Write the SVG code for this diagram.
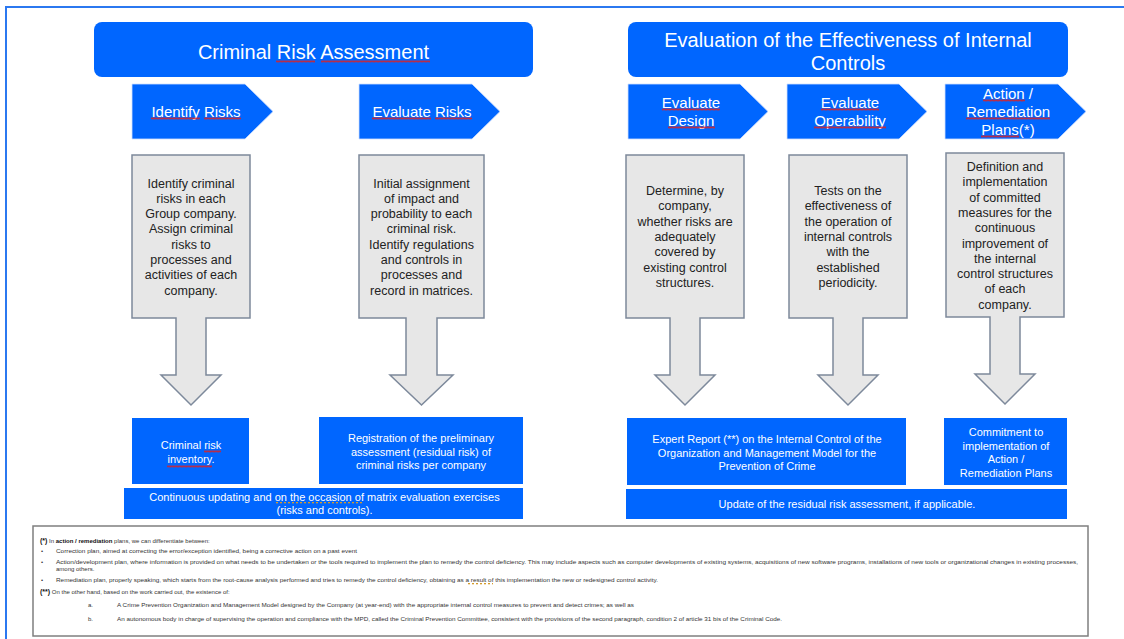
<svg xmlns="http://www.w3.org/2000/svg" width="1124" height="639" viewBox="0 0 1124 639">
  <defs>
    <!-- spell-check style wavy underline (tiles start on multiples of 3 px) -->
    <pattern id="wavy" width="4" height="3" patternUnits="userSpaceOnUse">
      <path d="M0,2.5 L1,0.5 L2,2.5 L3,0.5 L4,2.5" fill="none" stroke="#e02020" stroke-width="0.8"/>
    </pattern>
    <pattern id="dots" width="4" height="3" patternUnits="userSpaceOnUse">
      <rect x="0" y="1" width="2" height="1.3" fill="#d49a2a"/>
    </pattern>
  </defs>
  <style>
    .blue { fill: #0066ff; }
    .chev { fill: #0066ff; stroke: #cfe0ff; stroke-width: 0.8; }
    .callout { fill: #e7e7e7; stroke: #7d899b; stroke-width: 1.5; }
    .wt { font-family: "Liberation Sans", Arial, sans-serif; fill: #ffffff; text-anchor: middle; }
    .h { font-size: 20px; }
    .c { font-size: 15px; }
    .s { font-size: 11px; }
    .gt { font-family: "Liberation Sans", Arial, sans-serif; font-size: 12.5px; fill: #222222; text-anchor: middle; }
    .fn { font-family: "Liberation Sans", Arial, sans-serif; font-size: 6px; fill: #333333; }
    .b { font-weight: bold; fill: #111111; }
  </style>

  <rect width="1124" height="639" fill="#ffffff"/>
  <!-- page frame -->
  <path d="M6,639 V7 H1124" fill="none" stroke="#2b78f0" stroke-width="2"/>

  <!-- section headers -->
  <g id="hdr-risk-assessment">
    <rect class="blue" x="94" y="22" width="439" height="55" rx="8"/>
    <text class="wt h" x="313.5" y="59">Criminal Risk Assessment</text>
    <rect x="276" y="60" width="39" height="3" fill="url(#wavy)"/>
    <rect x="321" y="60" width="109" height="3" fill="url(#wavy)"/>
  </g>
  <g id="hdr-effectiveness">
    <rect class="blue" x="628" y="22" width="440" height="55" rx="8"/>
    <text class="wt h" x="848" y="47">Evaluation of the Effectiveness of Internal</text>
    <text class="wt h" x="848" y="70">Controls</text>
  </g>

  <!-- process steps -->
  <g id="step-identify">
    <path class="chev" d="M132,84 H245 L273,111.5 L245,139 H132 Z"/>
    <text class="wt c" x="196" y="117">Identify Risks</text>
    <rect x="151" y="117" width="49" height="3" fill="url(#wavy)"/>
    <rect x="204" y="117" width="37" height="3" fill="url(#wavy)"/>
  </g>
  <g id="step-evaluate">
    <path class="chev" d="M359,84 H472 L500,111.5 L472,139 H359 Z"/>
    <text class="wt c" x="422" y="117">Evaluate Risks</text>
    <rect x="372" y="117" width="59" height="3" fill="url(#wavy)"/>
    <rect x="435" y="117" width="37" height="3" fill="url(#wavy)"/>
  </g>
  <g id="step-design">
    <path class="chev" d="M628,84 H740 L768,111.5 L740,139 H628 Z"/>
    <text class="wt c" x="691" y="108">Evaluate</text>
    <text class="wt c" x="691" y="126">Design</text>
    <rect x="662" y="108" width="58" height="3" fill="url(#wavy)"/>
    <rect x="668" y="126" width="47" height="3" fill="url(#wavy)"/>
  </g>
  <g id="step-operability">
    <path class="chev" d="M787,84 H899 L927,111.5 L899,139 H787 Z"/>
    <text class="wt c" x="850" y="108">Evaluate</text>
    <text class="wt c" x="850" y="126">Operability</text>
    <rect x="821" y="108" width="58" height="3" fill="url(#wavy)"/>
    <rect x="814" y="126" width="72" height="3" fill="url(#wavy)"/>
  </g>
  <g id="step-action">
    <path class="chev" d="M945,84 H1058 L1086,111.5 L1058,139 H945 Z"/>
    <text class="wt c" x="1008" y="99">Action /</text>
    <text class="wt c" x="1008" y="117">Remediation</text>
    <text class="wt c" x="1008" y="135">Plans(*)</text>
    <rect x="983" y="99" width="42" height="3" fill="url(#wavy)"/>
    <rect x="966" y="117" width="84" height="3" fill="url(#wavy)"/>
    <rect x="981" y="135" width="38" height="3" fill="url(#wavy)"/>
  </g>

  <!-- activity callouts -->
  <g id="act-identify">
    <path class="callout" d="M132,155 H250 V318 H206 V375 H221 L191,405 L161,375 H176 V318 H132 Z"/>
    <text class="gt" x="191" y="187.5">Identify criminal</text>
    <text class="gt" x="191" y="202.8">risks in each</text>
    <text class="gt" x="191" y="218.1">Group company.</text>
    <text class="gt" x="191" y="233.4">Assign criminal</text>
    <text class="gt" x="191" y="248.7">risks to</text>
    <text class="gt" x="191" y="264">processes and</text>
    <text class="gt" x="191" y="279.3">activities of each</text>
    <text class="gt" x="191" y="294.6">company.</text>
  </g>
  <g id="act-evaluate">
    <path class="callout" d="M359,155 H484 V318 H437 V375 H453 L421.5,405 L390,375 H406 V318 H359 Z"/>
    <text class="gt" x="421.5" y="187.5">Initial assignment</text>
    <text class="gt" x="421.5" y="202.8">of impact and</text>
    <text class="gt" x="421.5" y="218.1">probability to each</text>
    <text class="gt" x="421.5" y="233.4">criminal risk.</text>
    <text class="gt" x="421.5" y="248.7">Identify regulations</text>
    <text class="gt" x="421.5" y="264">and controls in</text>
    <text class="gt" x="421.5" y="279.3">processes and</text>
    <text class="gt" x="421.5" y="294.6">record in matrices.</text>
  </g>
  <g id="act-design">
    <path class="callout" d="M626,155 H744 V318 H700 V375 H715 L685,405 L655,375 H670 V318 H626 Z"/>
    <text class="gt" x="685" y="195">Determine, by</text>
    <text class="gt" x="685" y="210.3">company,</text>
    <text class="gt" x="685" y="225.6">whether risks are</text>
    <text class="gt" x="685" y="240.9">adequately</text>
    <text class="gt" x="685" y="256.2">covered by</text>
    <text class="gt" x="685" y="271.5">existing control</text>
    <text class="gt" x="685" y="286.8">structures.</text>
  </g>
  <g id="act-operability">
    <path class="callout" d="M789,155 H907 V318 H863 V375 H878 L848,405 L818,375 H833 V318 H789 Z"/>
    <text class="gt" x="848" y="195">Tests on the</text>
    <text class="gt" x="848" y="210.3">effectiveness of</text>
    <text class="gt" x="848" y="225.6">the operation of</text>
    <text class="gt" x="848" y="240.9">internal controls</text>
    <text class="gt" x="848" y="256.2">with the</text>
    <text class="gt" x="848" y="271.5">established</text>
    <text class="gt" x="848" y="286.8">periodicity.</text>
  </g>
  <g id="act-action">
    <path class="callout" d="M946,153 H1064 V317 H1020 V374 H1035 L1005,404 L975,374 H990 V317 H946 Z"/>
    <text class="gt" x="1005" y="171">Definition and</text>
    <text class="gt" x="1005" y="186.3">implementation</text>
    <text class="gt" x="1005" y="201.6">of committed</text>
    <text class="gt" x="1005" y="216.9">measures for the</text>
    <text class="gt" x="1005" y="232.2">continuous</text>
    <text class="gt" x="1005" y="247.5">improvement of</text>
    <text class="gt" x="1005" y="262.8">the internal</text>
    <text class="gt" x="1005" y="278.1">control structures</text>
    <text class="gt" x="1005" y="293.4">of each</text>
    <text class="gt" x="1005" y="308.7">company.</text>
  </g>

  <!-- outputs -->
  <g id="out-inventory">
    <rect class="blue" x="132" y="418" width="117" height="66"/>
    <text class="wt s" x="191" y="449">Criminal risk</text>
    <text class="wt s" x="191" y="463">inventory.</text>
    <rect x="204" y="450" width="17" height="3" fill="url(#wavy)"/>
    <rect x="167" y="465" width="45" height="3" fill="url(#wavy)"/>
  </g>
  <g id="out-registration">
    <rect class="blue" x="319" y="417" width="204" height="67"/>
    <text class="wt s" x="421" y="442">Registration of the preliminary</text>
    <text class="wt s" x="421" y="455.5">assessment (residual risk) of</text>
    <text class="wt s" x="421" y="469">criminal risks per company</text>
  </g>
  <g id="out-updating">
    <rect class="blue" x="124" y="488" width="399" height="31"/>
    <text class="wt s" x="324.5" y="501">Continuous updating and on the occasion of matrix evaluation exercises</text>
    <text class="wt s" x="324.5" y="514">(risks and controls).</text>
    <rect x="274" y="501" width="89" height="3" fill="url(#dots)"/>
  </g>
  <g id="out-expert-report">
    <rect class="blue" x="627" y="418" width="279" height="67"/>
    <text class="wt s" x="767" y="443">Expert Report (**) on the Internal Control of the</text>
    <text class="wt s" x="767" y="456.5">Organization and Management Model for the</text>
    <text class="wt s" x="767" y="470">Prevention of Crime</text>
  </g>
  <g id="out-commitment">
    <rect class="blue" x="944" y="418" width="123" height="67"/>
    <text class="wt s" x="1006" y="436">Commitment to</text>
    <text class="wt s" x="1006" y="449.5">implementation of</text>
    <text class="wt s" x="1006" y="463">Action /</text>
    <text class="wt s" x="1006" y="477">Remediation Plans</text>
  </g>
  <g id="out-residual">
    <rect class="blue" x="626" y="489" width="441" height="30"/>
    <text class="wt s" x="847" y="508">Update of the residual risk assessment, if applicable.</text>
  </g>

  <!-- notes -->
  <g id="notes">
    <rect x="33" y="526" width="1055" height="110" fill="#ffffff" stroke="#7f7f7f" stroke-width="1.5"/>
    <text class="fn" x="40" y="543"><tspan class="b" font-size="7">(*)</tspan> In <tspan class="b">action / remediation</tspan> plans, we can differentiate between:</text>
    <text class="fn" x="41" y="553">•</text>
    <text class="fn" x="56" y="553" textLength="301" lengthAdjust="spacingAndGlyphs">Correction plan, aimed at correcting the error/exception identified, being a corrective action on a past event</text>
    <text class="fn" x="41" y="564">•</text>
    <text class="fn" x="56" y="564" textLength="1022" lengthAdjust="spacingAndGlyphs">Action/development plan, where information is provided on what needs to be undertaken or the tools required to implement the plan to remedy the control deficiency. This may include aspects such as computer developments of existing systems, acquisitions of new software programs, installations of new tools or organizational changes in existing processes,</text>
    <text class="fn" x="56" y="571">among others.</text>
    <text class="fn" x="41" y="582">•</text>
    <text class="fn" x="56" y="582" textLength="602" lengthAdjust="spacingAndGlyphs">Remediation plan, properly speaking, which starts from the root-cause analysis performed and tries to remedy the control deficiency, obtaining as a result of this implementation the new or redesigned control activity.</text>
    <rect x="466" y="582" width="27" height="3" fill="url(#dots)"/>
    <text class="fn" x="40" y="594"><tspan class="b" font-size="7">(**)</tspan> On the other hand, based on the work carried out, the existence of:</text>
    <text class="fn" x="88" y="607">a.</text>
    <text class="fn" x="117" y="607" textLength="517" lengthAdjust="spacingAndGlyphs">A Crime Prevention Organization and Management Model designed by the Company (at year-end) with the appropriate internal control measures to prevent and detect crimes; as well as</text>
    <text class="fn" x="88" y="621">b.</text>
    <text class="fn" x="117" y="621" textLength="665" lengthAdjust="spacingAndGlyphs">An autonomous body in charge of supervising the operation and compliance with the MPD, called the Criminal Prevention Committee, consistent with the provisions of the second paragraph, condition 2 of article 31 bis of the Criminal Code.</text>
  </g>
</svg>
